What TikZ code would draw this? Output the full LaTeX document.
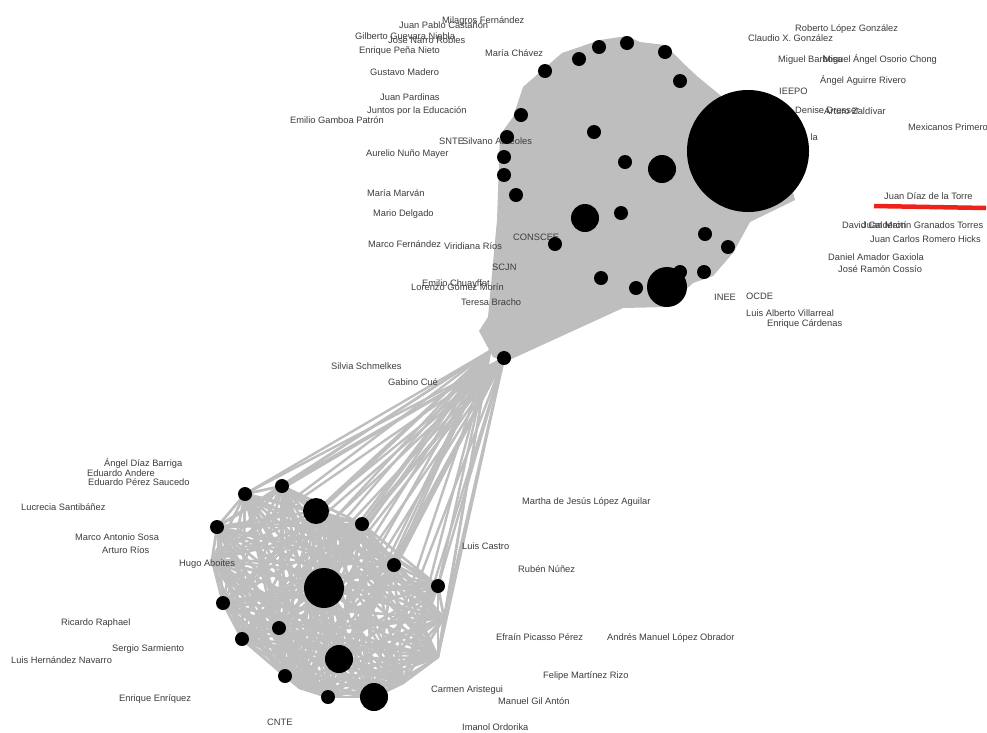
\documentclass[tikz,border=0pt]{standalone}
\usepackage{fontspec}
\setmainfont{Liberation Sans}
\definecolor{edgegray}{HTML}{BEBEBE}
\definecolor{txt}{HTML}{3C3C3C}
\definecolor{redmark}{HTML}{F0201A}
\begin{document}
\begin{tikzpicture}[x=1pt,y=-1pt,
  edge/.style={edgegray,line width=2.7pt},
  fanline/.style={edgegray,line width=2.4pt},
  dot/.style={circle,fill=black,draw=none,inner sep=0pt,minimum size=14pt},
  lbl/.style={anchor=base west,inner sep=0pt,text=txt,font=\fontsize{9.3}{10}\selectfont,yshift=-3.3pt},
  lble/.style={lbl,anchor=base east}]
\useasboundingbox[fill=white] (0,0) rectangle (987,732);

% ---------- bottom cluster coordinates ----------
\coordinate (b1) at (245,494);
\coordinate (b2) at (282,486);
\coordinate (b3) at (316,511);
\coordinate (b4) at (362,524);
\coordinate (b5) at (217,527);
\coordinate (b6) at (394,565);
\coordinate (b7) at (438,586);
\coordinate (b8) at (324,588);
\coordinate (b9) at (223,603);
\coordinate (b10) at (279,628);
\coordinate (b11) at (242,639);
\coordinate (b12) at (339,659);
\coordinate (b13) at (285,676);
\coordinate (b14) at (328,697);
\coordinate (b15) at (374,697);
\coordinate (b16) at (212,560);
\coordinate (b17) at (444,618);
\coordinate (b18) at (438,657);
\coordinate (b19) at (403,683);
\coordinate (b20) at (300,688);
\coordinate (b21) at (335,518);
% ---------- top cluster coordinates ----------
\coordinate (t1) at (545,71);
\coordinate (t2) at (579,59);
\coordinate (t3) at (599,47);
\coordinate (t4) at (627,43);
\coordinate (t5) at (665,52);
\coordinate (t6) at (680,81);
\coordinate (t7) at (521,115);
\coordinate (t8) at (507,137);
\coordinate (t9) at (504,157);
\coordinate (t10) at (504,175);
\coordinate (t11) at (516,195);
\coordinate (t12) at (594,132);
\coordinate (t13) at (625,162);
\coordinate (t14) at (662,169);
\coordinate (t15) at (748,151);
\coordinate (t16) at (585,218);
\coordinate (t17) at (621,213);
\coordinate (t18) at (555,244);
\coordinate (t19) at (705,234);
\coordinate (t20) at (728,247);
\coordinate (t21) at (601,278);
\coordinate (t22) at (636,288);
\coordinate (t23) at (680,272);
\coordinate (t24) at (667,287);
\coordinate (t25) at (704,272);
\coordinate (t26) at (504,358);
\coordinate (f1) at (490,351);

% ---------- top cluster: dense edges ----------
\fill[edgegray] (523,87) -- (562,53) -- (600,40) -- (627,36) -- (640,42) -- (665,45)
  -- (683,63) -- (698,77) -- (720,95) -- (748,120) -- (790,180) -- (795,200)
  -- (750,222) -- (733,253) -- (713,276) -- (693,283) -- (667,307) -- (623,308)
  -- (505,362) -- (493,357) -- (479,331) -- (488,317) -- (497,220) -- (500,135)
  -- (513,117) -- cycle;

% ---------- bottom cluster: all pairs ----------
\foreach \i in {1,...,21}{
  \foreach \j in {1,...,21}{
    \ifnum\j>\i \draw[edge] (b\i) -- (b\j);\fi
  }
}
% ---------- fan between clusters ----------
\foreach \i in {1,...,21}{
  \draw[fanline] (b\i) -- (f1);
  \draw[fanline] (b\i) -- (t26);
}

% ---------- labels ----------
\node[lbl] (l1) at (442,20) {Milagros Fernández};
\node[lbl] (l2) at (399,25) {Juan Pablo Castañón};
\node[lbl] (l3) at (355,36) {Gilberto Guevara Niebla};
\node[lbl] (l4) at (388,40) {José Narro Robles};
\node[lbl] (l5) at (359,50) {Enrique Peña Nieto};
\node[lbl] (l6) at (485,53) {María Chávez};
\node[lbl] (l7) at (370,72) {Gustavo Madero};
\node[lbl] (l8) at (380,97) {Juan Pardinas};
\node[lbl] (l9) at (367,110) {Juntos por la Educación};
\node[lbl] (l10) at (290,120) {Emilio Gamboa Patrón};
\node[lbl] (l11) at (439,141) {SNTE};
\node[lbl] (l12) at (462,141) {Silvano Aureoles};
\node[lbl] (l13) at (366,153) {Aurelio Nuño Mayer};
\node[lbl] (l14) at (367,193) {María Marván};
\node[lbl] (l15) at (373,213) {Mario Delgado};
\node[lbl] (l16) at (368,244) {Marco Fernández};
\node[lbl] (l17) at (444,246) {Viridiana Ríos};
\node[lbl] (l18) at (513,237) {CONSCEE};
\node[lbl] (l19) at (492,267) {SCJN};
\node[lbl] (l20) at (422,283) {Emilio Chuayffet};
\node[lbl] (l21) at (411,287) {Lorenzo Gómez Morín};
\node[lbl] (l22) at (461,302) {Teresa Bracho};
\node[lbl] (l23) at (331,366) {Silvia Schmelkes};
\node[lbl] (l24) at (388,382) {Gabino Cué};
\node[lbl] (l25) at (795,28) {Roberto López González};
\node[lbl] (l26) at (748,38) {Claudio X. González};
\node[lbl] (l27) at (778,59) {Miguel Barbosa};
\node[lbl] (l28) at (823,59) {Miguel Ángel Osorio Chong};
\node[lbl] (l29) at (820,80) {Ángel Aguirre Rivero};
\node[lbl] (l30) at (779,91) {IEEPO};
\node[lbl] (l31) at (795,110) {Denise Dresser};
\node[lbl] (l32) at (824,111) {Arturo Zaldívar};
\node[lble] (l33) at (818,137) {la};
\node[lbl] (l34) at (908,127) {Mexicanos Primero};
\node[lbl] (l35) at (884,196) {Juan Díaz de la Torre};
\node[lbl] (l36) at (842,225) {David Calderón};
\node[lbl] (l37) at (862,225) {Juan Martín Granados Torres};
\node[lbl] (l38) at (870,239) {Juan Carlos Romero Hicks};
\node[lbl] (l39) at (828,257) {Daniel Amador Gaxiola};
\node[lbl] (l40) at (838,269) {José Ramón Cossío};
\node[lbl] (l41) at (714,297) {INEE};
\node[lbl] (l42) at (746,296) {OCDE};
\node[lbl] (l43) at (746,313) {Luis Alberto Villarreal};
\node[lbl] (l44) at (767,323) {Enrique Cárdenas};
\node[lbl] (l45) at (104,463) {Ángel Díaz Barriga};
\node[lbl] (l46) at (87,473) {Eduardo Andere};
\node[lbl] (l47) at (88,482) {Eduardo Pérez Saucedo};
\node[lbl] (l48) at (21,507) {Lucrecia Santibáñez};
\node[lbl] (l49) at (75,537) {Marco Antonio Sosa};
\node[lbl] (l50) at (102,550) {Arturo Ríos};
\node[lbl] (l51) at (179,563) {Hugo Aboites};
\node[lbl] (l52) at (61,622) {Ricardo Raphael};
\node[lbl] (l53) at (112,648) {Sergio Sarmiento};
\node[lbl] (l54) at (11,660) {Luis Hernández Navarro};
\node[lbl] (l55) at (119,698) {Enrique Enríquez};
\node[lbl] (l56) at (267,722) {CNTE};
\node[lbl] (l57) at (522,501) {Martha de Jesús López Aguilar};
\node[lbl] (l58) at (462,546) {Luis Castro};
\node[lbl] (l59) at (518,569) {Rubén Núñez};
\node[lbl] (l60) at (496,637) {Efraín Picasso Pérez};
\node[lbl] (l61) at (607,637) {Andrés Manuel López Obrador};
\node[lbl] (l62) at (543,675) {Felipe Martínez Rizo};
\node[lbl] (l63) at (431,689) {Carmen Aristegui};
\node[lbl] (l64) at (498,701) {Manuel Gil Antón};
\node[lbl] (l65) at (462,727) {Imanol Ordorika};

% red underline
\coordinate (r1) at (874,206);
\coordinate (r2) at (986,208);
\draw[redmark,line width=4.5pt] (r1) -- (r2);

% ---------- nodes (circles) ----------
\foreach \i in {1,2,4,5,6,7,9,10,11,13,14}{
  \node[dot] (nb\i) at (b\i) {};
}
\node[dot,minimum size=26pt] (nb3) at (b3) {};
\node[dot,minimum size=40pt] (nb8) at (b8) {};
\node[dot,minimum size=28pt] (nb12) at (b12) {};
\node[dot,minimum size=28pt] (nb15) at (b15) {};

\foreach \i in {1,2,3,4,5,6,7,8,9,10,11,12,13,17,18,19,20,21,22,23,25,26}{
  \node[dot] (nt\i) at (t\i) {};
}
\node[dot,minimum size=28pt] (nt14) at (t14) {};
\node[dot,minimum size=28pt] (nt16) at (t16) {};
\node[dot,minimum size=40pt] (nt24) at (t24) {};
\node[dot,minimum size=122pt] (nt15) at (t15) {};
\end{tikzpicture}
\end{document}
